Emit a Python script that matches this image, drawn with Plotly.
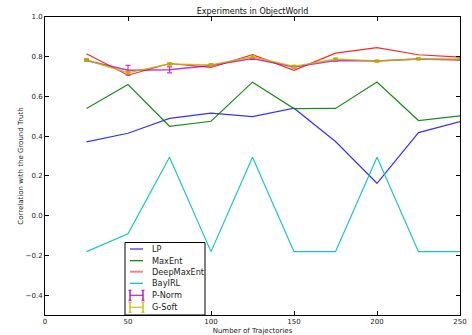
import plotly.graph_objects as go

x = [25, 50, 75, 100, 125, 150, 175, 200, 225, 250]
lp = [0.371, 0.415, 0.490, 0.516, 0.499, 0.541, 0.373, 0.163, 0.418, 0.473]
maxent = [0.539, 0.660, 0.450, 0.475, 0.672, 0.539, 0.540, 0.673, 0.479, 0.502]
deepmaxent = [0.815, 0.707, 0.766, 0.746, 0.810, 0.732, 0.818, 0.846, 0.810, 0.798]
bayirl = [-0.181, -0.091, 0.294, -0.181, 0.294, -0.181, -0.181, 0.294, -0.181, -0.181]
pnorm = [0.781, 0.732, 0.734, 0.756, 0.791, 0.748, 0.781, 0.778, 0.789, 0.784]
pnorm_err = [0.004, 0.025, 0.015, 0.004, 0.004, 0.004, 0.003, 0.003, 0.003, 0.003]
gsoft = [0.784, 0.720, 0.764, 0.759, 0.800, 0.751, 0.788, 0.778, 0.789, 0.789]
gsoft_err = [0.006, 0.006, 0.006, 0.006, 0.006, 0.006, 0.005, 0.005, 0.005, 0.005]

names = ["LP", "MaxEnt", "DeepMaxEnt", "BayIRL", "P-Norm", "G-Soft"]
colors = ["rgba(0,0,255,0.8)", "rgba(0,128,0,0.9)", "rgba(255,0,0,0.85)",
          "rgba(0,191,191,0.9)", "rgba(191,0,191,0.8)", "rgba(191,180,0,0.85)"]
legend_colors = ["rgba(0,0,255,0.5)", "rgba(0,128,0,1)", "rgba(255,0,0,0.5)",
                 "rgba(0,191,191,1)", "rgba(191,0,191,0.9)", "rgba(191,191,0,0.9)"]
series = [lp, maxent, deepmaxent, bayirl, pnorm, gsoft]
errors = [None, None, None, None, pnorm_err, gsoft_err]

fig = go.Figure()
for name, col, ys, err in zip(names, colors, series, errors):
    kw = {}
    if err is not None:
        kw["error_y"] = dict(type="data", array=err, color=col, thickness=1.2, width=2.5)
    if name == "G-Soft":
        kw["mode"] = "lines+markers"
        kw["marker"] = dict(symbol="square", size=3.5, color="rgba(191,170,0,0.85)")
    else:
        kw["mode"] = "lines"
    fig.add_trace(go.Scatter(x=x, y=ys, name=name, showlegend=False,
                             line=dict(color=col, width=1.2 if err is None else 1.5), **kw))

W, H = 472, 335
ml, mr, mt, mb = 45, 12, 17, 20
pw, ph = W - ml - mr, H - mt - mb


def px(xp):
    return (xp - ml) / pw


def py(yp):
    return 1 - (yp - mt) / ph


shapes = [dict(type="rect", xref="paper", yref="paper", x0=px(125), x1=px(205), y0=py(315), y1=py(242.5),
               line=dict(color="black", width=1), fillcolor="white", layer="above")]
annotations = []
row_y = [249, 260.7, 271.7, 283.3, 295.3, 307.3]
for i, (name, col) in enumerate(zip(names, legend_colors)):
    yy = py(row_y[i])
    if errors[i] is None:
        shapes.append(dict(type="line", xref="paper", yref="paper", x0=px(130), x1=px(143), y0=yy, y1=yy,
                           line=dict(color=col, width=2 if i in (0, 2) else 1.2), layer="above"))
    else:
        shapes.append(dict(type="line", xref="paper", yref="paper", x0=px(130), x1=px(143), y0=yy, y1=yy,
                           line=dict(color=col, width=1.2), layer="above"))
        for xc in (130, 143):
            shapes.append(dict(type="line", xref="paper", yref="paper", x0=px(xc), x1=px(xc),
                               y0=py(row_y[i] - 5), y1=py(row_y[i] + 5),
                               line=dict(color=col, width=1.5), layer="above"))
            for dy in (-5, 5):
                shapes.append(dict(type="line", xref="paper", yref="paper", x0=px(xc - 1.5), x1=px(xc + 1.5),
                                   y0=py(row_y[i] + dy), y1=py(row_y[i] + dy),
                                   line=dict(color=col, width=1.2), layer="above"))
    annotations.append(dict(text=name, xref="paper", yref="paper", x=px(149.5), y=yy, xanchor="left",
                            yanchor="middle", showarrow=False, font=dict(size=8.2, color="#222")))

axis_common = dict(showgrid=False, zeroline=False, showline=True, linecolor="black",
                   linewidth=1, mirror="ticks", ticks="inside", ticklen=4, tickcolor="black",
                   tickfont=dict(size=7, color="#222"), automargin=False)
fig.update_xaxes(range=[0, 250], tickvals=[0, 50, 100, 150, 200, 250],
                 title=dict(text="Number of Trajectories", font=dict(size=7, color="#222"), standoff=2),
                 **axis_common)
fig.update_yaxes(range=[-0.5, 1.0], tickvals=[-0.4, -0.2, 0.0, 0.2, 0.4, 0.6, 0.8, 1.0],
                 ticktext=["\u22120.4", "\u22120.2", "0.0", "0.2", "0.4", "0.6", "0.8", "1.0"],
                 title=dict(text="Correlation with the Ground Truth", font=dict(size=7, color="#222"), standoff=1),
                 **axis_common)
fig.update_layout(
    width=W, height=H,
    margin=dict(l=ml, r=mr, t=mt, b=mb),
    paper_bgcolor="white", plot_bgcolor="white",
    font=dict(family="DejaVu Sans", size=7, color="#222"),
    title=dict(text="Experiments in ObjectWorld", x=0.5, xref="paper", xanchor="center",
               y=1 - 11 / H, yref="container", yanchor="middle", automargin=False,
               font=dict(size=8, color="#111")),
    showlegend=False,
    shapes=shapes,
    annotations=annotations,
)
fig.write_html("out.html", config={"displayModeBar": False},
               post_script="document.body.style.margin='0';document.body.style.overflow='hidden';")
